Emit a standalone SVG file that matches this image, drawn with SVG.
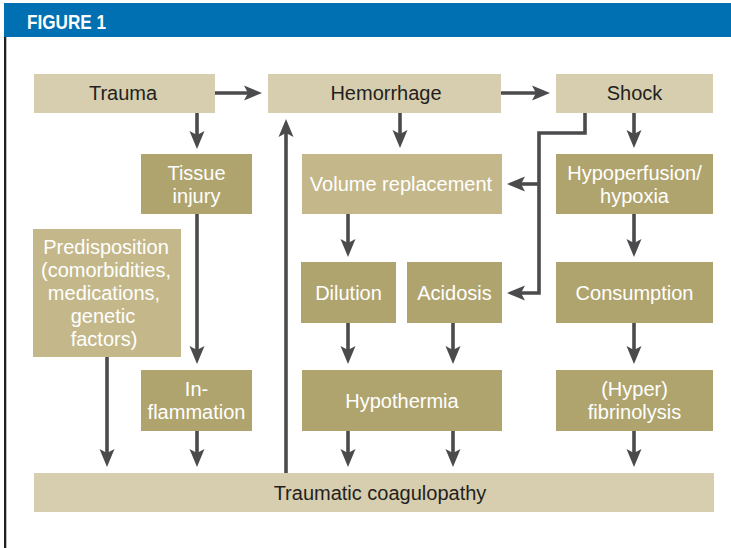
<svg xmlns="http://www.w3.org/2000/svg" width="731" height="548" viewBox="0 0 731 548">
<style>
.lt{fill:#d7ceaf}
.md{fill:#c4b88a}
.dk{fill:#b0a46e}
text{font-family:"Liberation Sans",Arial,sans-serif;font-size:20px;text-anchor:middle}
.dt{fill:#231f20}
.wt{fill:#ffffff}
.ar{stroke:#4b4b4d;stroke-width:3.6;fill:none;marker-end:url(#ah)}
</style>
<defs>
<marker id="ah" markerUnits="userSpaceOnUse" markerWidth="20" markerHeight="18" refX="5" refY="0" orient="auto" viewBox="0 -9 20 18" overflow="visible">
<path d="M0,-7.5 L18,0 L0,7.5 L4,0 Z" fill="#4b4b4d"/>
</marker>
</defs>
<rect x="0" y="0" width="731" height="548" fill="#ffffff"/>
<g id="header">
<rect x="4" y="3" width="727" height="34" fill="#0070b2"/>
<rect x="4" y="37" width="2.3" height="511" fill="#231f20"/>
<text x="27" y="28.5" style="text-anchor:start;font-weight:bold;font-size:20px" fill="#ffffff" textLength="79" lengthAdjust="spacingAndGlyphs">FIGURE 1</text>
</g>
<g id="connectors">
<line class="ar" x1="215" y1="93" x2="249" y2="93"/>
<line class="ar" x1="501" y1="93" x2="537" y2="93"/>
<line class="ar" x1="197" y1="113" x2="197" y2="136"/>
<line class="ar" x1="400" y1="113" x2="400" y2="135"/>
<line class="ar" x1="634" y1="113" x2="634" y2="135"/>
<path class="ar" d="M585,113 V133 H539 V293 H520" stroke-linejoin="miter"/>
<line class="ar" x1="539" y1="184" x2="520" y2="184"/>
<line class="ar" x1="348" y1="214" x2="348" y2="244"/>
<line class="ar" x1="634" y1="214" x2="634" y2="244"/>
<line class="ar" x1="197" y1="214" x2="197" y2="351"/>
<line class="ar" x1="348" y1="323" x2="348" y2="351"/>
<line class="ar" x1="453" y1="323" x2="453" y2="351"/>
<line class="ar" x1="634" y1="323" x2="634" y2="351"/>
<line class="ar" x1="107" y1="357" x2="107" y2="454"/>
<line class="ar" x1="197" y1="431" x2="197" y2="454"/>
<line class="ar" x1="348" y1="431" x2="348" y2="454"/>
<line class="ar" x1="453" y1="431" x2="453" y2="454"/>
<line class="ar" x1="634" y1="431" x2="634" y2="454"/>
<line class="ar" x1="286" y1="473" x2="286" y2="132"/>
</g>
<g id="trauma"><rect class="lt" x="34" y="74" width="181" height="39"/><text class="dt" x="123" y="100">Trauma</text></g>
<g id="hemorrhage"><rect class="lt" x="268" y="74" width="233" height="39"/><text class="dt" x="386" y="100">Hemorrhage</text></g>
<g id="shock"><rect class="lt" x="556" y="74" width="157" height="39"/><text class="dt" x="634.5" y="100">Shock</text></g>
<g id="tissue-injury"><rect class="dk" x="141" y="154" width="111" height="60"/><text class="wt" x="196.5" y="179.5">Tissue</text><text class="wt" x="196.5" y="202.5">injury</text></g>
<g id="volume-replacement"><rect class="md" x="302" y="154" width="200" height="60"/><text class="wt" x="401" y="191">Volume replacement</text></g>
<g id="hypoperfusion"><rect class="dk" x="556" y="154" width="157" height="60"/><text class="wt" x="634.5" y="179.5">Hypoperfusion/</text><text class="wt" x="634.5" y="202.5">hypoxia</text></g>
<g id="predisposition"><rect class="md" x="33" y="229" width="148" height="128"/>
<text class="wt" x="106" y="254">Predisposition</text>
<text class="wt" x="106" y="277">(comorbidities,</text>
<text class="wt" x="104" y="300">medications,</text>
<text class="wt" x="103" y="323">genetic</text>
<text class="wt" x="104" y="346">factors)</text></g>
<g id="dilution"><rect class="dk" x="301" y="262" width="95" height="61"/><text class="wt" x="348.5" y="299.5">Dilution</text></g>
<g id="acidosis"><rect class="dk" x="407" y="262" width="95" height="61"/><text class="wt" x="454.5" y="299.5">Acidosis</text></g>
<g id="consumption"><rect class="dk" x="556" y="262" width="157" height="61"/><text class="wt" x="634.5" y="299.5">Consumption</text></g>
<g id="inflammation"><rect class="dk" x="141" y="370" width="111" height="61"/><text class="wt" x="196.5" y="396">In-</text><text class="wt" x="196.5" y="419">flammation</text></g>
<g id="hypothermia"><rect class="dk" x="302" y="370" width="200" height="61"/><text class="wt" x="402" y="407.5">Hypothermia</text></g>
<g id="fibrinolysis"><rect class="dk" x="556" y="370" width="157" height="61"/><text class="wt" x="634.5" y="396">(Hyper)</text><text class="wt" x="634.5" y="419">fibrinolysis</text></g>
<g id="traumatic-coagulopathy"><rect class="lt" x="34" y="473" width="680" height="39"/><text class="dt" x="380" y="499.5">Traumatic coagulopathy</text></g>
</svg>
